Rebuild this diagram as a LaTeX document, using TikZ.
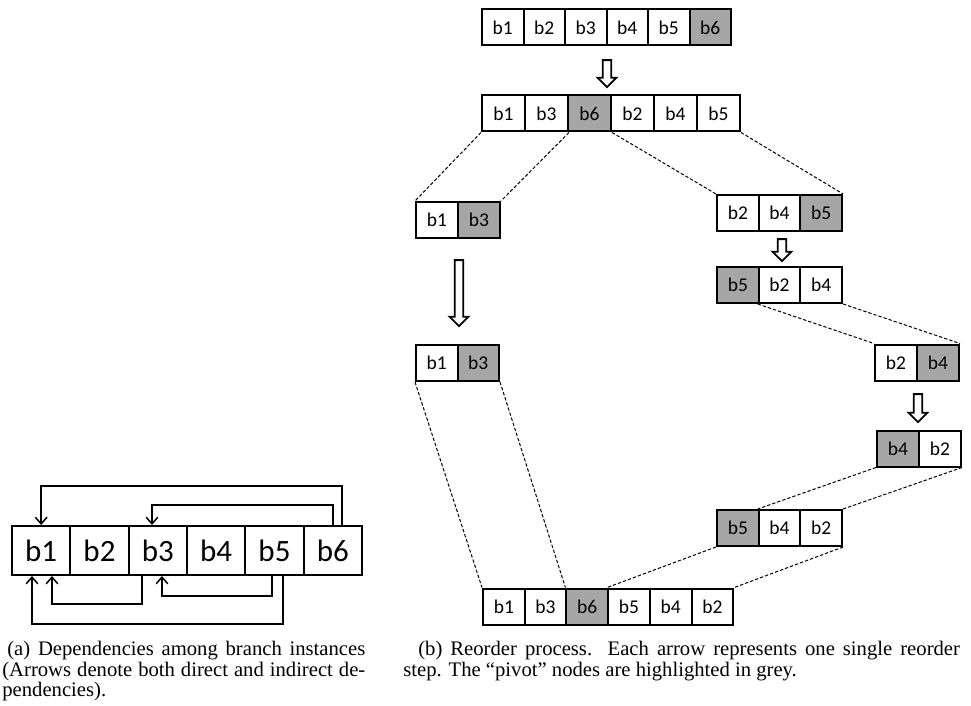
\documentclass[tikz,border=0pt]{standalone}
\usepackage{fontspec}
\setmainfont{Liberation Serif}
\newfontfamily\cellfont{Carlito}
\usepackage{tikz}
\usetikzlibrary{shapes.arrows,arrows.meta}
\definecolor{pivot}{RGB}{166,166,166}
% Une rangée de cases, posées côte à côte à partir du bord gauche.
\newcommand{\blockrow}[6][]{%
  \foreach \lbl/\cellfill [count=\k] in {#6}
    \node[cell, #1, minimum width=#5*0.6pt, fill=\cellfill] (#2\k)
      at ({#3+(\k-0.5)*#5},#4) {\lbl};}

\begin{document}
\begin{tikzpicture}[x=0.6pt, y=-0.6pt,
  cell/.style={draw, line width=1.2pt, minimum height=21.6pt, inner sep=0pt,
    font=\cellfont\fontsize{11.7}{14}\selectfont},
  big/.style={minimum height=29.4pt, font=\cellfont\fontsize{18.6}{22}\selectfont},
  hollow/.style={single arrow, draw, fill=white, line width=1.1pt, rotate=-90,
    inner xsep=0pt, inner ysep=2pt, single arrow head extend=3.1pt,
    single arrow tip angle=90, minimum height=#1*0.6pt},
  link/.style={line width=0.6pt, dash pattern=on 2pt off 1.2pt},
  needs/.style={line width=0.9pt, -{Straight Barb[length=4pt, width=7pt]}},
  caption/.style={anchor=north west, inner sep=0pt, align=justify,
    font=\fontsize{12.4}{12.2}\selectfont}]
  \useasboundingbox (0,0) rectangle (971,706);
  % (a) Les six instances et leurs dépendances.
  \blockrow[big]{br}{12}{550.5}{58.33}{b1/white,b2/white,b3/white,b4/white,b5/white,b6/white}
  \draw[needs] ([xshift=5.5pt]br6.north) -- ++(0,-39) -| (br1.north);
  \draw[needs] (br6.north) -- ++(0,-20) -| ([xshift=-3.5pt]br3.north);
  \draw[needs] ([xshift=-9.5pt]br3.south) -- ++(0,28) -| ([xshift=6.5pt]br1.south);
  \draw[needs] ([xshift=-1.5pt]br5.south) -- ++(0,20) -| ([xshift=2.5pt]br3.south);
  \draw[needs] ([xshift=5.1pt]br5.south) -- ++(0,48) -| ([xshift=-5.5pt]br1.south);
  % (b) Les étapes du réordonnancement, pivot en gris.
  \blockrow{orig}{482}{27.5}{41.5}{b1/white,b2/white,b3/white,b4/white,b5/white,b6/pivot}
  \blockrow{split}{482}{113.5}{43}{b1/white,b3/white,b6/pivot,b2/white,b4/white,b5/white}
  \blockrow{lhs}{416}{220}{42}{b1/white,b3/pivot}
  \blockrow{lhsdone}{416}{363}{41.5}{b1/white,b3/pivot}
  \blockrow{rhs}{717}{213}{41.7}{b2/white,b4/white,b5/pivot}
  \blockrow{rhsa}{717}{285}{41.7}{b5/pivot,b2/white,b4/white}
  \blockrow{rhsb}{875}{362.5}{42}{b2/white,b4/pivot}
  \blockrow{rhsc}{877}{448.5}{42}{b4/pivot,b2/white}
  \blockrow{rhsd}{717}{528}{41.7}{b5/pivot,b4/white,b2/white}
  \blockrow{final}{483}{606.5}{41.7}{b1/white,b3/white,b6/pivot,b5/white,b4/white,b2/white}
  % Une flèche creuse par étape.
  \node[hollow=27] (move1) at (607,71.5) {};
  \node[hollow=66] (move2) at (459,291) {};
  \node[hollow=22] (move3) at (782,248) {};
  \node[hollow=28] (move4) at (918,406) {};
  % Les tirets qui relient une sous-liste à sa place.
  \draw[link] (split1.south west) -- (lhs1.north west);
  \draw[link] (split2.south east) -- (lhs2.north east);
  \draw[link] (split3.south east) -- (rhs1.north west);
  \draw[link] (split6.south east) -- (rhs3.north east);
  \draw[link] (rhsa2.south west) -- (rhsb1.north west);
  \draw[link] (rhsa3.south east) -- (rhsb2.north east);
  \draw[link] (rhsc1.south west) -- (rhsd2.north west);
  \draw[link] (rhsc2.south east) -- (rhsd3.north east);
  \draw[link] (rhsd1.south west) -- (final4.north west);
  \draw[link] (rhsd3.south east) -- (final6.north east);
  \draw[link] (lhsdone1.south west) -- (final1.north west);
  \draw[link] (lhsdone2.south east) -- (final3.north west);
  % Les légendes.
  \node[caption, text width=217.8pt] (capa) at (2,641)
    {\hspace*{3pt}(a) Dependencies among branch instances\linebreak
     (Arrows denote both direct and indirect de-\linebreak pendencies).};
  \node[caption, text width=334pt] (capb) at (403,641)
    {\hspace*{9pt}(b) Reorder process. Each arrow represents one single reorder\linebreak
     step. The “pivot” nodes are highlighted in grey.};
\end{tikzpicture}
\end{document}
